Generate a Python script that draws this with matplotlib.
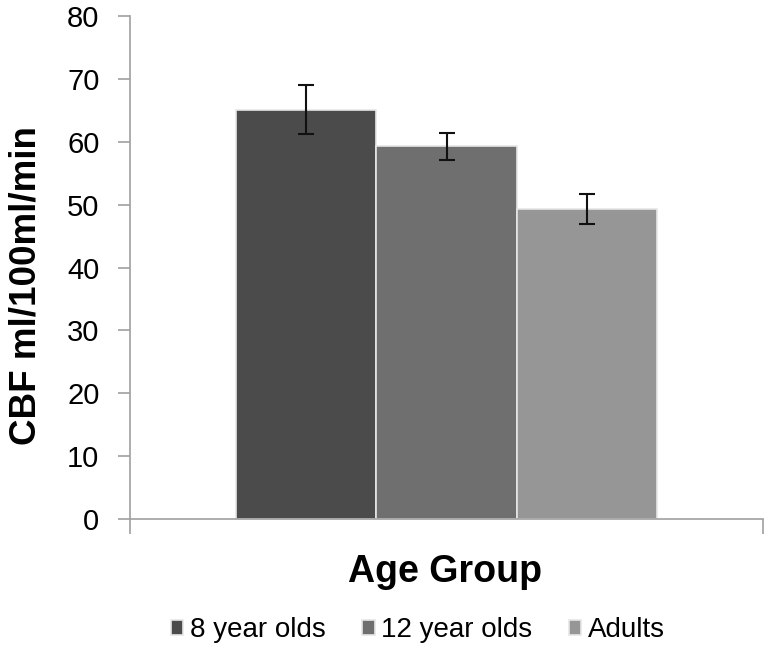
import matplotlib
matplotlib.use("Agg")
import matplotlib.pyplot as plt
import numpy as np

plt.rcParams['font.family'] = ['Liberation Sans', 'DejaVu Sans']

groups = ["8 year olds", "12 year olds", "Adults"]
cbf = [65.1, 59.3, 49.35]
err = [3.9, 2.15, 2.35]
colors = ["#4b4b4b", "#6f6f6f", "#969696"]

fig = plt.figure(figsize=(7.74, 6.54), dpi=100)
ax = fig.add_axes([0.168, 0.2064, 0.8178, 0.7691])

width = 0.222
x = np.array([-1, 0, 1]) * width
for i in range(3):
    ax.bar(x[i], cbf[i], width, color=colors[i], edgecolor="#e6e6e6",
           linewidth=1.2, label=groups[i], zorder=2)
    ax.errorbar(x[i], cbf[i], yerr=err[i], fmt="none", ecolor="#111111",
                elinewidth=1.5, capsize=6, capthick=1.5, zorder=3)

ax.set_xlim(-0.5, 0.5)
ax.set_ylim(0, 80)
ax.set_yticks(range(0, 81, 10))
ax.set_xticks([-0.5, 0.5])
ax.set_xticklabels(["", ""])
ax.tick_params(axis="y", labelsize=21, length=9, width=1.2, color="#a0a0a0", pad=13)
ax.tick_params(axis="x", length=11, width=1.2, color="#a0a0a0")
for s in ["top", "right"]:
    ax.spines[s].set_visible(False)
for s in ["left", "bottom"]:
    ax.spines[s].set_color("#a0a0a0")
    ax.spines[s].set_linewidth(1.2)

ax.set_ylabel("CBF ml/100ml/min", fontsize=26.5, fontweight="bold")
ax.yaxis.set_label_coords(-0.1374, 0.465)
ax.set_xlabel("Age Group", fontsize=27, fontweight="bold")
ax.xaxis.label.set_va("baseline")
ax.xaxis.set_label_coords(0.498, -0.1252)

fig.legend(loc="center", bbox_to_anchor=(0.540, 0.0367), ncol=3, frameon=False,
           fontsize=20, handlelength=0.45, handleheight=0.45, handletextpad=0.25,
           columnspacing=1.3, borderpad=0)

fig.savefig("out.png", dpi=100)
